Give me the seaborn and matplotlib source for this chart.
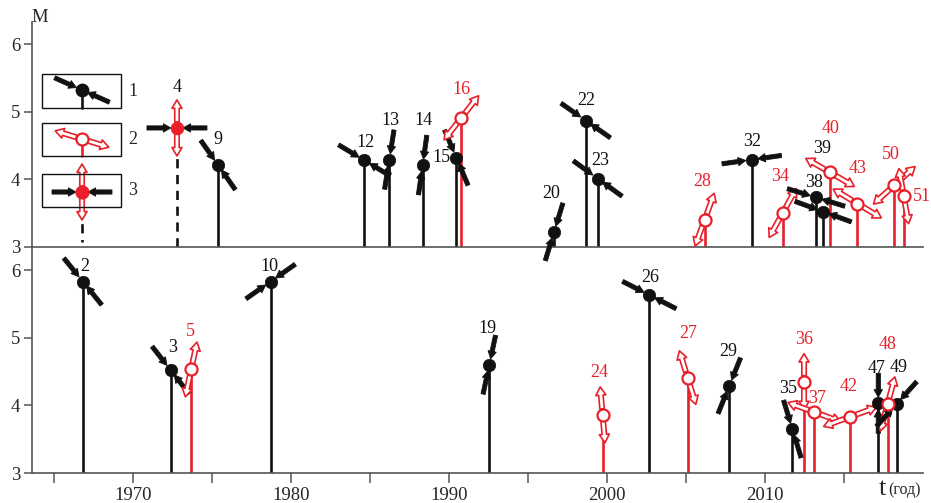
import numpy as np
import pandas as pd
import matplotlib
matplotlib.use("Agg")
import matplotlib.pyplot as plt
import seaborn as sns
from matplotlib.transforms import offset_copy
from matplotlib.patches import Rectangle
from matplotlib.lines import Line2D

# ---------------- data ----------------
top_id = [4, 9, 12, 13, 14, 15, 16, 20, 22, 23, 28, 32, 34, 38, 39, 40, 43, 50, 51]
top_year = [1972.8, 1975.4, 1984.66, 1986.24, 1988.35, 1990.48, 1990.8, 1996.67, 1998.67,
            1999.43, 2006.2, 2009.18, 2011.14, 2013.25, 2013.7, 2014.14, 2015.86, 2018.2, 2018.8]
top_M = [4.76, 4.21, 4.28, 4.29, 4.21, 4.32, 4.91, 3.22, 4.87, 4.01, 3.40, 4.29, 3.50,
         3.73, 3.52, 4.10, 3.64, 3.91, 3.75]
top_type = [3, 1, 1, 1, 1, 1, 2, 1, 1, 1, 2, 1, 2, 1, 1, 2, 2, 2, 2]
# azimuth of compression axis (black arrows) and extension axis (red arrows), degrees on plot
top_comp = [0, -55, -31, 81, 82, -67, None, 73, -35, -36, None, 8, None, -17, -20, None, None, None, None]
top_ext = [90, None, None, None, None, None, 52, None, None, None, 70, None, 61, None, None, -30, -31, 42, 100]

bot_id = [2, 3, 5, 10, 19, 24, 26, 27, 29, 35, 36, 37, 42, 47, 48, 49]
bot_year = [1966.84, 1972.4, 1973.7, 1978.73, 1992.57, 1999.74, 2002.7, 2005.12, 2007.76,
            2011.75, 2012.49, 2013.14, 2015.4, 2017.19, 2017.78, 2018.35]
bot_M = [5.83, 4.52, 4.53, 5.83, 4.60, 3.86, 5.63, 4.41, 4.29, 3.65, 4.35, 3.90, 3.83,
         4.03, 4.02, 4.02]
bot_type = [1, 1, 2, 1, 1, 2, 1, 2, 1, 1, 2, 2, 2, 1, 2, 1]
bot_comp = [-51, -52, None, 35, 78, None, -27, None, 68, 107, None, None, None, 90, None, 48]
bot_ext = [None, None, 78, None, None, 95, None, 107, None, None, 90, -20, 20, None, 75, None]

legend_labels = ["1", "2", "3"]
y_ticks = [3, 4, 5, 6]
x_ticks = [1965, 1970, 1975, 1980, 1985, 1990, 1995, 2000, 2005, 2010, 2015]
x_ticklabels = ["", "1970", "", "1980", "", "1990", "", "2000", "", "2010", ""]

# label offsets (pixels, right / up) – layout only
lab_off = {4: (0, 40), 9: (0, 26), 12: (1, 18), 13: (1, 39), 14: (1, 45), 15: (-15, 0),
           16: (0, 28), 20: (-3, 38), 22: (1, 20), 23: (3, 18), 28: (-2, 38), 32: (0, 18),
           34: (-3, 36), 38: (-2, 15), 39: (-1, 63), 40: (0, 44), 43: (0, 35), 50: (-3, 31),
           51: (18, 0), 2: (2, 15), 3: (2, 23), 5: (-1, 38), 10: (-1, 15), 19: (-2, 36),
           24: (-3, 42), 26: (1, 18), 27: (1, 44), 29: (-1, 34), 35: (-4, 41), 36: (0, 42),
           37: (3, 14), 42: (-1, 30), 47: (-2, 35), 48: (0, 59), 49: (2, 36)}

# ---------------- style ----------------
W, H, DPI = 931, 503, 100
RED = "#e8202a"
BLK = "#111111"
AXC = "#555555"
sns.set_theme(style="white")
plt.rcParams["font.family"] = ["Liberation Serif", "DejaVu Serif"]
plt.rcParams["axes.edgecolor"] = AXC

fig = plt.figure(figsize=(W / DPI, H / DPI), dpi=DPI)
x0, x1 = 31.6 / W, 922.7 / W
ax_t = fig.add_axes([x0, (H - 246.7) / H, x1 - x0, (246.7 - 22) / H])
ax_b = fig.add_axes([x0, (H - 473) / H, x1 - x0, (473 - 247) / H])

PX2PT = 72.0 / DPI


def arrow(ax, x, y, base, ang, r_tail, r_head, kind):
    a = np.deg2rad(ang)
    tr_t = offset_copy(base, fig=fig, x=r_tail * np.cos(a) * PX2PT, y=r_tail * np.sin(a) * PX2PT, units="points")
    tr_h = offset_copy(base, fig=fig, x=r_head * np.cos(a) * PX2PT, y=r_head * np.sin(a) * PX2PT, units="points")
    if kind == "comp":
        props = dict(arrowstyle="simple,head_length=0.55,head_width=0.6,tail_width=0.3",
                     fc=BLK, ec=BLK, lw=0.6, shrinkA=0, shrinkB=0, mutation_scale=10)
    else:
        props = dict(arrowstyle="simple,head_length=0.6,head_width=0.72,tail_width=0.32",
                     fc="white", ec=RED, lw=1.2, shrinkA=0, shrinkB=0, mutation_scale=10)
    ax.annotate("", xy=(x, y), xycoords=tr_h, xytext=(x, y), textcoords=tr_t,
                arrowprops=props, annotation_clip=False, zorder=4)


def glyph(ax, x, y, base, comp, ext):
    if comp is not None:
        for d in (0, 180):
            arrow(ax, x, y, base, comp + d, 30, 6, "comp")
    if ext is not None:
        for d in (0, 180):
            arrow(ax, x, y, base, ext + d, 6, 28, "ext")


def panel(ax, ids, years, Ms, types, comps, exts):
    df = pd.DataFrame({"id": ids, "year": years, "M": Ms, "type": types})
    for t, g in df.groupby("type"):
        col = RED if t == 2 else BLK
        ls = (0, (3.5, 2.5)) if t == 3 else "-"
        ax.vlines(g["year"], 3, g["M"], colors=col, lw=1.9, linestyles=ls, zorder=2)
    for i in range(len(ids)):
        glyph(ax, years[i], Ms[i], ax.transData, comps[i], exts[i])
    d1, d2, d3 = df[df.type == 1], df[df.type == 2], df[df.type == 3]
    sns.scatterplot(data=d1, x="year", y="M", ax=ax, color=BLK, s=80, edgecolor=BLK,
                    linewidth=0.5, zorder=5, legend=False)
    sns.scatterplot(data=d2, x="year", y="M", ax=ax, color="white", s=75, edgecolor=RED,
                    linewidth=1.6, zorder=5, legend=False)
    sns.scatterplot(data=d3, x="year", y="M", ax=ax, color=RED, s=85, edgecolor=RED,
                    linewidth=0.5, zorder=5, legend=False)
    for i in range(len(ids)):
        dx, dy = lab_off[ids[i]]
        tr = offset_copy(ax.transData, fig=fig, x=dx * PX2PT, y=dy * PX2PT, units="points")
        ax.text(years[i], Ms[i], str(ids[i]), transform=tr, ha="center", va="center",
                fontsize=13, color=RED if types[i] == 2 else BLK, zorder=6)


for ax in (ax_t, ax_b):
    ax.set_xlim(1963.6, 2020)
    ax.set_facecolor("none")
ax_t.set_ylim(3, 6.33)
ax_b.set_ylim(3, 6.34)

panel(ax_t, top_id, top_year, top_M, top_type, top_comp, top_ext)
panel(ax_b, bot_id, bot_year, bot_M, bot_type, bot_comp, bot_ext)

for ax in (ax_t, ax_b):
    sns.despine(ax=ax, top=True, right=True)
    ax.spines["left"].set_linewidth(1.2)
    ax.spines["bottom"].set_linewidth(1.2)
    ax.set_yticks(y_ticks)
    ax.set_yticklabels([str(v) for v in y_ticks], fontsize=13.5)
    ax.tick_params(axis="y", direction="out", length=6, width=1.1, color=AXC, pad=2, left=True)
    ax.set_xlabel("")
    ax.set_ylabel("")
    ax.grid(False)

ax_t.set_xticks([])
ax_b.set_xticks(x_ticks)
ax_b.set_xticklabels(x_ticklabels, fontsize=13.5)
ax_b.tick_params(axis="x", direction="out", length=7, width=1.1, color=AXC, pad=3, bottom=True)

# axis titles
fig.text(40 / W, 1 - 18 / H, "M", fontsize=13.5, ha="center", va="center")
fig.text(886 / W, 1 - 489 / H, "t", fontsize=19, ha="right", va="center")
fig.text(888 / W, 1 - 490 / H, "(год)", fontsize=11.5, ha="left", va="center")

# ---------------- legend (figure pixel layout) ----------------
ftr = fig.transFigure


def P(x, y):
    return (x / W, 1 - y / H)


boxes = [(74, 108), (123, 156), (174, 207)]
for (yt, yb), lab in zip(boxes, legend_labels):
    x_, y_ = P(42, yb)
    fig.patches.append(Rectangle((x_, y_), 79 / W, (yb - yt) / H, transform=ftr,
                                 fill=False, ec=BLK, lw=1.0, zorder=1))
    fig.text(128 / W, 1 - ((yt + yb) / 2) / H, lab, fontsize=13, ha="left", va="center")

leg_ax = fig.add_axes([0, 0, 1, 1], facecolor="none")
leg_ax.set_xlim(0, 1)
leg_ax.set_ylim(0, 1)
leg_ax.axis("off")
leg_ax.add_line(Line2D([82 / W, 82 / W], [P(0, 90)[1], P(0, 108)[1]], color=BLK, lw=1.9, zorder=2))
leg_ax.add_line(Line2D([82 / W, 82 / W], [P(0, 139)[1], P(0, 156)[1]], color=RED, lw=1.9, zorder=2))
leg_ax.add_line(Line2D([82 / W, 82 / W], [P(0, 192)[1], P(0, 242)[1]], color=BLK, lw=1.9,
                       ls=(0, (3.5, 2.5)), zorder=2))
glyph(leg_ax, *P(82, 90), leg_ax.transAxes, -24, None)
glyph(leg_ax, *P(82, 139), leg_ax.transAxes, None, -17)
glyph(leg_ax, *P(82, 192), leg_ax.transAxes, 0, 90)
leg_ax.scatter(*P(82, 90), s=80, color=BLK, zorder=5, transform=leg_ax.transAxes)
leg_ax.scatter(*P(82, 139), s=75, color="white", edgecolor=RED, linewidth=1.6, zorder=5, transform=leg_ax.transAxes)
leg_ax.scatter(*P(82, 192), s=85, color=RED, zorder=5, transform=leg_ax.transAxes)

fig.savefig("out.png", dpi=DPI)
